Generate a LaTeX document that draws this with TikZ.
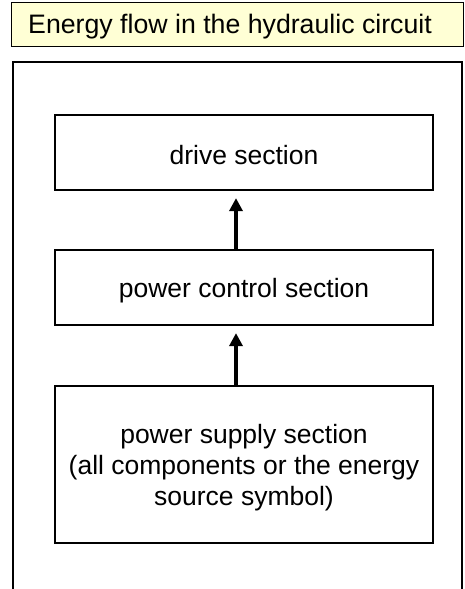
\documentclass[tikz,border=0pt]{standalone}
\usepackage{fontspec}
\setmainfont{Liberation Sans}
\usetikzlibrary{arrows.meta}
\definecolor{titlefill}{HTML}{FFFFD5}
\tikzset{
  x=1pt, y=-1pt,
  sectionbox/.style={draw=black, line width=1.2pt, minimum width=378pt, inner sep=0pt, align=center, font=\fontsize{26.5}{31}\selectfont},
  flowarrow/.style={line width=4.5pt, -{Triangle[length=13pt,width=13pt]}, shorten >=7.5pt}
}
\begin{document}
\begin{tikzpicture}
\useasboundingbox (0,0) rectangle (464,589);
\clip (0,0) rectangle (464,589);
% title
\node[draw=black, line width=1.2pt, fill=titlefill, minimum width=452pt, minimum height=44pt, inner sep=0pt, anchor=north west] (title) at (11,2) {};
\node[anchor=base west, inner sep=0pt, font=\fontsize{26.7}{30}\selectfont] (titletext) at (28,33) {Energy flow in the hydraulic circuit};
% outer frame
\draw[line width=2pt] (462,620) -- (462,62) -- (13,62) -- (13,620);
% boxes
\node[sectionbox, minimum height=75pt, text height=23pt, text depth=0pt] (drive) at (244,152.5) {drive section};
\node[sectionbox, minimum height=75pt, text height=22pt, text depth=1.6pt] (control) at (244,287.5) {power control section};
\node[sectionbox, minimum height=157pt, text depth=0pt] (supply) at (244,464.5) {power supply section\\(all components or the energy\\source symbol)};
\draw[flowarrow] (control.north -| 236,0) -- (drive.south -| 236,0);
\draw[flowarrow] (supply.north -| 236,0) -- (control.south -| 236,0);
\end{tikzpicture}
\end{document}
